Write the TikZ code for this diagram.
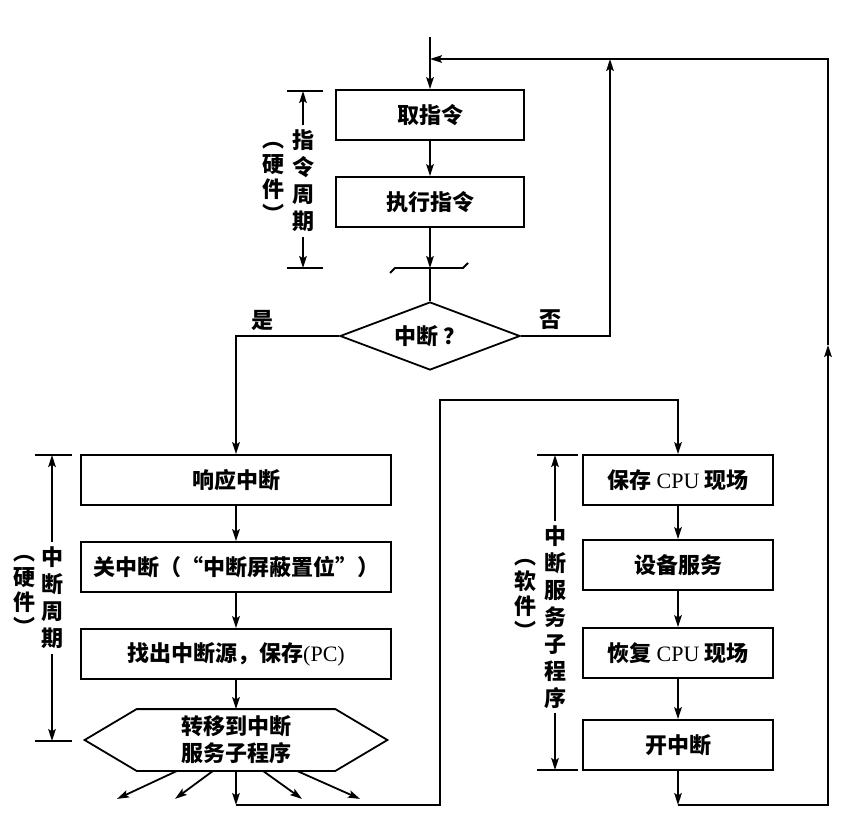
\documentclass[tikz,border=0pt]{standalone}
\usepackage{fontspec}
\setmainfont{Liberation Serif}
\newfontfamily\cjk{Noto Sans CJK SC}
\usetikzlibrary{arrows.meta, calc, shapes.geometric}

\newcommand{\lat}[1]{{\rmfamily\mdseries #1}}

\begin{document}
\begin{tikzpicture}[x=0.5pt, y=-0.5pt, >={Stealth[length=6pt, width=3.8pt, inset=1.2pt]},
  line width=0.9pt, font=\cjk\bfseries\fontsize{11}{13.5}\selectfont,
  box/.style={draw, minimum height=25pt, inner sep=0pt},
  vlabel/.style={align=center, inner sep=2pt},
  plabel/.style={align=center, inner sep=0pt, font=\cjk\bfseries\fontsize{11}{12.5}\selectfont},
  tick/.style={line width=0.9pt}]

\useasboundingbox (0,0) rectangle (850,825);

%-- instruction cycle
\coordinate (In) at (430,37);
\coordinate (J)  at (430,59);
\node[box, minimum width=94pt] (qu) at (430,115) {取指令};
\node[box, minimum width=94pt] (zx) at (430,202) {执行指令};
\coordinate (Brk) at (430,268);
\node[diamond, draw, aspect=2.6, minimum width=90pt, minimum height=34pt, inner sep=0pt]
  (dec) at (430,336) {中断 ？};

\draw[->] (In) -- (qu);
\draw[->] (qu) -- (zx);
\draw[->] (zx) -- (Brk);
\draw (Brk) -- (dec);

%-- break mark
\draw (390,273) -- (395,268) -- (463,268) -- (468,263);

%-- yes / no
\node (yes) at (262,320) {是};
\node (no)  at (550,320) {否};

\coordinate (N1) at (610,59);
\draw[->] (dec.east) -| (N1);

%-- instruction cycle span
\node[vlabel] (tc) at (303,181) {指\\令\\周\\期};
\node[plabel] (th) at (273,182) {︵\\硬\\件\\︶};
\coordinate (T1) at (303,91);
\coordinate (T2) at (303,268);
\foreach \t in {T1,T2}
  \draw[tick] ($(\t)+(-16,0)$) -- ($(\t)+(20,0)$);
\draw[->] (tc.north) -- (T1);
\draw[->] (tc.south) -- (T2);

%-- interrupt cycle
\node[box, minimum width=155pt] (xy) at (236,480) {响应中断};
\node[box, minimum width=155pt] (gz) at (236,567) {关中断（“中断屏蔽置位”）};
\node[box, minimum width=155pt] (zc) at (236,654) {找出中断源，保存\lat{(PC)}};
\node[minimum width=150.5pt, minimum height=30pt, inner sep=0pt, align=center]
  (hex) at (236,740) {转移到中断\\服务子程序};
\draw (hex.west) -- ($(hex.north west)+(52,0)$) -- ($(hex.north east)+(-52,0)$)
  -- (hex.east) -- ($(hex.south east)+(-52,0)$) -- ($(hex.south west)+(52,0)$) -- cycle;

\draw[->] (dec.west) -| (xy);
\foreach \a/\b in {xy/gz, gz/zc, zc/hex}
  \draw[->] (\a) -- (\b);

%-- fan out to the service routines
\foreach \a/\b in {-59/-119, -23/-61, 27/66, 61/124}
  \draw[->] ($(hex.south)+(\a,0)$) -- ($(hex.south)+(\b,28)$);

%-- interrupt cycle span
\node[vlabel] (ic) at (52,598) {中\\断\\周\\期};
\node[plabel] (ih) at (24,595) {︵\\硬\\件\\︶};
\coordinate (I1) at (52,455);
\coordinate (I2) at (52,741);
\foreach \t in {I1,I2}
  \draw[tick] ($(\t)+(-17,0)$) -- ($(\t)+(20,0)$);
\draw[->] (ic.north) -- (I1);
\draw[->] (ic.south) -- (I2);

%-- service routine
\node[box, minimum width=95pt] (bc) at (678,480) {保存 \lat{CPU} 现场};
\node[box, minimum width=95pt] (sb) at (678,565) {设备服务};
\node[box, minimum width=95pt] (hf) at (678,653) {恢复 \lat{CPU} 现场};
\node[box, minimum width=95pt] (kz) at (678,745) {开中断};
\foreach \a/\b in {bc/sb, sb/hf, hf/kz}
  \draw[->] (\a) -- (\b);

\coordinate (Hd) at (236,805);
\coordinate (L1) at (440,805);
\coordinate (L2) at (440,400);
\draw[->] (hex) -- (Hd);
\draw[->] (Hd) -- (L1) -- (L2) -| (bc);

%-- return path
\coordinate (Kd) at (678,805);
\coordinate (R1) at (828,345);
\draw[->] (kz) -- (Kd);
\draw[->] (Kd) -| (R1);
\draw[->] (R1) |- (J);

%-- service routine span
\node[vlabel] (sc) at (555,617) {中\\断\\服\\务\\子\\程\\序};
\node[plabel] (sh) at (525,599) {︵\\软\\件\\︶};
\coordinate (S1) at (555,455);
\coordinate (S2) at (555,770);
\foreach \t in {S1,S2}
  \draw[tick] ($(\t)+(-18,0)$) -- ($(\t)+(23,0)$);
\draw[->] (sc.north) -- (S1);
\draw[->] (sc.south) -- (S2);

\end{tikzpicture}
\end{document}
